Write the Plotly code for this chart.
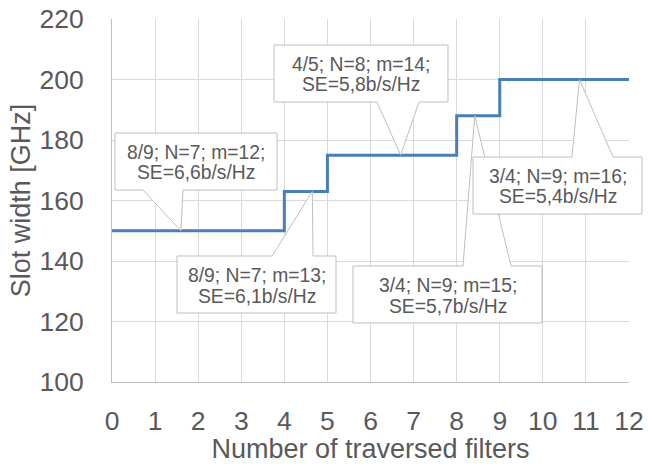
import plotly.graph_objects as go

# ---- data ----
filters = [0, 4, 5, 8, 9, 12]
slot_width = [150, 163, 175, 188, 200, 200]
x_ticks = list(range(0, 13))
y_ticks = [100, 120, 140, 160, 180, 200, 220]

# callout labels
label_line1 = ["8/9; N=7; m=12;", "8/9; N=7; m=13;", "4/5; N=8; m=14;", "3/4; N=9; m=15;", "3/4; N=9; m=16;"]
label_line2 = ["SE=6,6b/s/Hz", "SE=6,1b/s/Hz", "SE=5,8b/s/Hz", "SE=5,7b/s/Hz", "SE=5,4b/s/Hz"]
tip_x = [1.6, 4.65, 6.7, 8.42, 10.85]
tip_y = [150, 163, 175, 188, 200]

# ---- layout geometry (pixels) ----
W, H = 648, 464
L, R, T, B = 112, 629, 19, 382
XMIN, XMAX, YMIN, YMAX = 0, 12, 100, 220

# box: (left, top, right, bottom), wedge base (x1, x2), side
boxes = [
    ((115, 133, 277, 190), (143, 183), "bottom"),
    ((177, 256, 336, 313), (272, 313), "top"),
    ((274, 45, 448, 102), (377, 419), "bottom"),
    ((353, 266, 542, 323), (463, 511), "top"),
    ((473, 157, 642, 214), (572, 613), "top"),
]

def px2paper_x(px):
    return (px - L) / (R - L)

def px2paper_y(py):
    return (B - py) / (B - T)

fig = go.Figure()
fig.add_trace(go.Scatter(
    x=filters, y=slot_width, mode="lines", line_shape="hv",
    line=dict(color="#4a7ebb", width=3), showlegend=False, hoverinfo="skip",
))

FONT = "Liberation Sans, Arial, sans-serif"
TXT = "#595959"

shapes = []
annotations = []
for i, ((l, t, r, b), (w1, w2), side) in enumerate(boxes):
    tx = (tip_x[i] - XMIN) / (XMAX - XMIN)
    ty = (tip_y[i] - YMIN) / (YMAX - YMIN)
    X = px2paper_x
    Y = px2paper_y
    if side == "bottom":
        pts = [(X(l), Y(t)), (X(r), Y(t)), (X(r), Y(b)), (X(w2), Y(b)), (tx, ty),
               (X(w1), Y(b)), (X(l), Y(b))]
    else:
        pts = [(X(l), Y(b)), (X(l), Y(t)), (X(w1), Y(t)), (tx, ty), (X(w2), Y(t)),
               (X(r), Y(t)), (X(r), Y(b))]
    path = "M " + " L ".join(f"{a:.5f},{c:.5f}" for a, c in pts) + " Z"
    shapes.append(dict(type="path", path=path, xref="paper", yref="paper",
                       fillcolor="white", line=dict(color="#bfbfbf", width=1),
                       layer="above"))
    cx = X((l + r) / 2)
    for text, dy in ((label_line1[i], 19), (label_line2[i], 40)):
        annotations.append(dict(text=text, x=cx, y=Y(t + dy), xref="paper", yref="paper",
                                showarrow=False, xanchor="center", yanchor="middle",
                                font=dict(family=FONT, size=19.3, color=TXT)))

fig.update_layout(
    width=W, height=H,
    margin=dict(l=L, r=W - R, t=T, b=H - B, pad=0, autoexpand=False),
    plot_bgcolor="white", paper_bgcolor="white",
    shapes=shapes, annotations=annotations,
    font=dict(family=FONT, color=TXT),
)
fig.update_xaxes(
    range=[XMIN, XMAX], tickvals=x_ticks, ticktext=[str(v) for v in x_ticks],
    automargin=False,
    showgrid=True, gridcolor="#d9d9d9", gridwidth=1, zeroline=False,
    showline=True, linecolor="#bfbfbf", linewidth=1,
    ticks="outside", ticklen=15, tickcolor="rgba(0,0,0,0)",
    tickfont=dict(family=FONT, size=26.5, color=TXT),
    title=dict(text="Number of traversed filters", standoff=24,
               font=dict(family=FONT, size=27, color=TXT)),
)
fig.update_yaxes(
    range=[YMIN, YMAX], tickvals=y_ticks, ticktext=[str(v) for v in y_ticks],
    automargin=False,
    showgrid=True, gridcolor="#d9d9d9", gridwidth=1, zeroline=False,
    showline=True, linecolor="#bfbfbf", linewidth=1,
    ticks="outside", ticklen=22, tickcolor="rgba(0,0,0,0)",
    tickfont=dict(family=FONT, size=26.5, color=TXT),
    title=dict(text="Slot width [GHz]", standoff=1,
               font=dict(family=FONT, size=27, color=TXT)),
)

fig.write_html("out.html", config={"displayModeBar": False},
               post_script="document.body.style.margin='0px';")
